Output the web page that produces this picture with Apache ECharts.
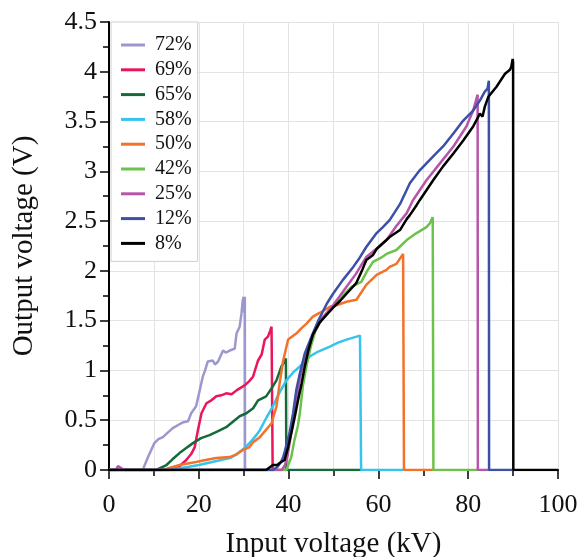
<!DOCTYPE html>
<html>
<head>
<meta charset="utf-8">
<script src="https://cdn.jsdelivr.net/npm/echarts@6/dist/echarts.min.js"></script>
<style>html,body{margin:0;padding:0;background:#fff}#c{width:581px;height:557px}</style>
</head>
<body>
<div id="c"></div>
<script>
// Series names (legend order)
const seriesNames = ['72%', '69%', '65%', '58%', '50%', '42%', '25%', '12%', '8%'];
const seriesColors = ['#9c98cf', '#e8175d', '#17693a', '#36c3ec', '#f3722a', '#6cc24a', '#b756a8', '#3b50a6', '#000000'];

// [input kV, output V]
const s72 = [[0,0],[7.5,0],[8.7,0.13],[10.1,0.27],[11,0.31],[12,0.33],[13.2,0.38],[14.2,0.42],[15.7,0.46],[16.6,0.48],[17.6,0.49],[18.3,0.57],[19.4,0.64],[20.2,0.80],[20.9,0.94],[21.4,1.0],[22,1.09],[23.1,1.10],[23.6,1.06],[24.3,1.09],[25.4,1.20],[26,1.18],[26.9,1.20],[28,1.22],[28.4,1.37],[29.1,1.44],[29.5,1.57],[29.8,1.71],[30.0,1.74],[30.15,1.58],[30.25,1.74],[30.3,0],[36.4,0]];
const s69 = [[0,0],[14,0],[15.5,0.03],[17.2,0.10],[18.3,0.16],[19.1,0.23],[19.8,0.40],[20.6,0.57],[21.7,0.67],[22.8,0.70],[23.9,0.74],[25,0.75],[26.1,0.77],[27.3,0.76],[28.4,0.80],[30.2,0.85],[31.2,0.89],[32.1,0.94],[33.2,1.10],[34,1.16],[34.7,1.31],[35.4,1.34],[35.9,1.40],[36.2,1.44],[36.4,1.44],[36.45,0],[39.5,0]];
const s65 = [[0,0],[10.5,0],[12.8,0.05],[14.2,0.11],[15.7,0.17],[17.2,0.22],[18.7,0.27],[20.5,0.32],[22.4,0.35],[24.3,0.39],[26.1,0.43],[28,0.50],[29.1,0.54],[30.6,0.57],[32.1,0.62],[33.2,0.70],[35,0.74],[36.2,0.82],[37.3,0.90],[38.4,1.04],[39.1,1.09],[39.4,1.12],[39.5,0],[56.1,0]];
const s58 = [[0,0],[13,0],[17.5,0.03],[20,0.05],[23,0.08],[26.9,0.12],[28.5,0.16],[30.2,0.22],[31.5,0.28],[32.8,0.35],[33.6,0.40],[35,0.52],[36.5,0.64],[38,0.78],[39.5,0.90],[41,0.98],[42.5,1.04],[44.7,1.14],[46.6,1.19],[49.2,1.24],[51,1.28],[52.9,1.31],[55.9,1.35],[56.1,1.35],[56.15,0],[65.7,0]];
const s50 = [[0,0],[12,0],[15.7,0.05],[19.4,0.08],[21.5,0.10],[23.9,0.12],[26.9,0.13],[28.5,0.16],[29.8,0.20],[31.3,0.23],[32.1,0.28],[33.6,0.33],[36.2,0.47],[37.3,0.64],[38,0.87],[38.8,1.10],[39.9,1.31],[41.7,1.37],[43,1.43],[44,1.47],[45.4,1.54],[47,1.58],[49.2,1.64],[51,1.66],[52.9,1.69],[55.1,1.71],[57.3,1.86],[59.6,1.96],[61.8,2.01],[62.5,2.04],[64,2.07],[65.5,2.17],[65.6,2.19],[65.7,0],[72.2,0]];
const s42 = [[0,0],[39.5,0],[40.6,0.13],[41.3,0.30],[42.1,0.45],[42.5,0.57],[43.2,0.85],[44,1.05],[45,1.25],[46,1.40],[47.5,1.52],[49.5,1.62],[52,1.75],[54,1.84],[56.2,1.89],[57.5,2.00],[58.8,2.09],[60.5,2.13],[61.8,2.17],[64,2.21],[66.3,2.31],[68.5,2.38],[70.7,2.44],[71.5,2.48],[72.1,2.54],[72.2,2.55],[72.25,0],[82.2,0]];
const s25 = [[0,0],[1.5,0],[2,0.04],[3,0.01],[4,0],[38.5,0],[39.2,0.05],[39.8,0.15],[40.5,0.35],[41.5,0.62],[42.5,0.92],[43.5,1.12],[45,1.32],[47,1.50],[50,1.66],[52.9,1.84],[55,1.97],[57.3,2.14],[59.5,2.22],[61.8,2.31],[64,2.45],[66.3,2.58],[67.7,2.71],[70.7,2.91],[73.7,3.08],[76.7,3.25],[79.6,3.45],[81.1,3.61],[82.1,3.77],[82.15,0],[84.7,0]];
const s12 = [[0,0],[36.5,0],[37.5,0.03],[38.3,0.08],[38.8,0.13],[39.1,0.18],[40.2,0.37],[41,0.57],[41.7,0.80],[42.5,0.97],[43.6,1.17],[45.1,1.34],[46.6,1.50],[47.5,1.58],[48.5,1.67],[49.9,1.77],[52.1,1.91],[54.4,2.04],[55.8,2.13],[57.3,2.24],[59.6,2.38],[61,2.44],[62.5,2.51],[64.8,2.67],[67,2.88],[69.2,3.01],[72.2,3.15],[74.4,3.25],[76.7,3.38],[78.9,3.51],[81.1,3.61],[82.6,3.71],[83.7,3.80],[84.3,3.83],[84.6,3.91],[84.65,0],[90,0]];
const s8 = [[0,0],[35,0],[36.5,0.05],[37.5,0.05],[38,0.07],[39.1,0.10],[39.9,0.23],[40.6,0.37],[41.4,0.54],[42.1,0.70],[42.9,0.87],[43.6,1.04],[44.4,1.20],[45.4,1.36],[46.9,1.48],[48.5,1.56],[49.9,1.63],[51.5,1.70],[52.9,1.77],[55.1,1.88],[56.5,2.02],[57.3,2.11],[58.8,2.16],[59.6,2.22],[61.8,2.31],[62.5,2.34],[64.8,2.41],[66.3,2.52],[67,2.56],[68.5,2.66],[69.2,2.71],[72.2,2.91],[74.4,3.05],[76.7,3.18],[78.9,3.31],[81.1,3.45],[82.6,3.58],[83.2,3.55],[83.7,3.65],[84.5,3.75],[86.3,3.85],[88.2,3.98],[89.3,4.02],[89.6,4.05],[89.9,4.13],[90,4.10],[90.05,0],[100,0]];
const seriesData = [s72, s69, s65, s58, s50, s42, s25, s12, s8];

const xTitle = 'Input voltage (kV)';
const yTitle = 'Output voltage (V)';

const font = '"Liberation Serif", "Times New Roman", serif';
const chart = echarts.init(document.getElementById('c'), null, {renderer: 'canvas'});
chart.setOption({
  animation: false,
  backgroundColor: '#fff',
  grid: {left: 109, right: 23, top: 22, bottom: 87, containLabel: false, outerBoundsMode: 'none'},
  legend: {
    orient: 'vertical', left: 111, top: 22,
    data: seriesNames,
    backgroundColor: '#fff', borderColor: '#cfcfcf', borderWidth: 1,
    padding: [13, 6, 8, 10],
    itemWidth: 24, itemHeight: 3, itemGap: 4.8,
    icon: 'rect',
    textStyle: {fontFamily: font, fontSize: 20, color: '#111', lineHeight: 19, padding: [0, 0, 0, 5]}
  },
  xAxis: {
    type: 'value', min: 0, max: 100, interval: 20,
    name: xTitle, nameLocation: 'middle', nameGap: 60,
    nameTextStyle: {fontFamily: font, fontSize: 29, color: '#111'},
    axisLine: {show: true, onZero: false, lineStyle: {color: '#000', width: 2}},
    axisTick: {show: true, inside: false, length: 9, lineStyle: {color: '#000', width: 1.5}},
    minorTick: {show: true, splitNumber: 2, length: 6, lineStyle: {color: '#000', width: 1.5}},
    axisLabel: {fontFamily: font, fontSize: 26, color: '#111', margin: 22},
    splitLine: {show: true, lineStyle: {color: '#e3e3e3', width: 1}},
    minorSplitLine: {show: true, lineStyle: {color: '#e3e3e3', width: 1}}
  },
  yAxis: {
    type: 'value', min: 0, max: 4.5, interval: 0.5,
    name: yTitle, nameLocation: 'middle', nameGap: 70, nameRotate: 90,
    nameTextStyle: {fontFamily: font, fontSize: 29, color: '#111'},
    axisLine: {show: true, onZero: false, lineStyle: {color: '#000', width: 2}},
    axisTick: {show: true, inside: false, length: 9, lineStyle: {color: '#000', width: 1.5}},
    minorTick: {show: true, splitNumber: 2, length: 6, lineStyle: {color: '#000', width: 1.5}},
    axisLabel: {fontFamily: font, fontSize: 26, color: '#111', margin: 12},
    splitLine: {show: true, lineStyle: {color: '#e3e3e3', width: 1}}
  },
  series: seriesNames.map((n, i) => ({
    name: n, type: 'line', data: seriesData[i],
    showSymbol: false, symbol: 'none',
    lineStyle: {color: seriesColors[i], width: 2.5},
    itemStyle: {color: seriesColors[i]},
    z: 2 + i
  }))
});
</script>
</body>
</html>
